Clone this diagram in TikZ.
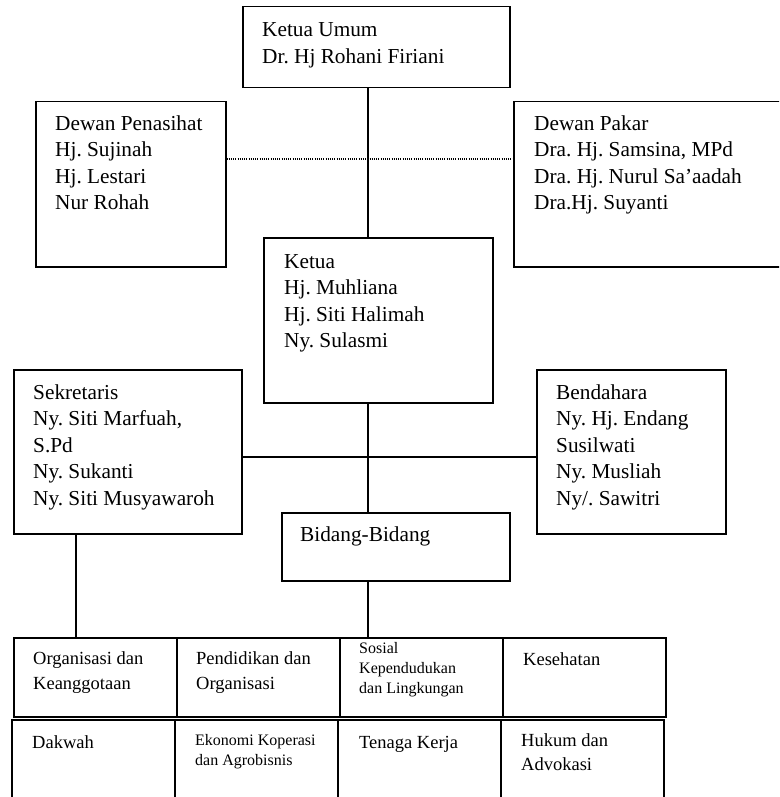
\documentclass[tikz,border=0pt]{standalone}
\usepackage{fontspec}
\setmainfont{Liberation Serif}
\usetikzlibrary{calc}
\frenchspacing
\newcommand\mylines[1]{\begin{tabular}[t]{@{}l@{}}#1\end{tabular}}
\begin{document}
\begin{tikzpicture}[x=1pt,y=-1pt,
  boxst/.style={draw, line width=1.5pt, inner sep=0pt, anchor=north west},
  txt/.style={anchor=base west, inner sep=0pt, font=\fontsize{21.3}{26.5}\selectfont},
  rowtxt/.style={anchor=base west, inner sep=0pt, font=\fontsize{18.5}{25}\selectfont},
  smalltxt/.style={anchor=base west, inner sep=0pt, font=\fontsize{16}{20}\selectfont},
  conn/.style={line width=1.5pt},
  dotconn/.style={line width=1.2pt, dash pattern=on 1.1pt off 1.1pt}]
\useasboundingbox (0,0) rectangle (779,797);
\clip (0,0) rectangle (779,797);
% boxes
\node[boxst, minimum width=267pt, minimum height=81pt] (ku) at (242,6) {};
\node[boxst, minimum width=190pt, minimum height=165pt] (dp) at (35,101) {};
\node[boxst, minimum width=272pt, minimum height=165pt] (dpk) at (513,101) {};
\node[boxst, minimum width=229pt, minimum height=165pt] (ketua) at (263,237) {};
\node[boxst, minimum width=228pt, minimum height=164pt] (sek) at (13,369) {};
\node[boxst, minimum width=189pt, minimum height=164pt] (bend) at (536,369) {};
\node[boxst, minimum width=228pt, minimum height=68pt] (bid) at (281,512) {};
\node[boxst, minimum width=163pt, minimum height=79pt] (r1a) at (13,637) {};
\node[boxst, minimum width=163pt, minimum height=79pt] (r1b) at (176,637) {};
\node[boxst, minimum width=163pt, minimum height=79pt] (r1c) at (339,637) {};
\node[boxst, minimum width=163pt, minimum height=79pt] (r1d) at (502,637) {};
\node[boxst, minimum width=163pt, minimum height=110pt] (r2a) at (11,719) {};
\node[boxst, minimum width=163pt, minimum height=110pt] (r2b) at (174,719) {};
\node[boxst, minimum width=163pt, minimum height=110pt] (r2c) at (337,719) {};
\node[boxst, minimum width=163pt, minimum height=110pt] (r2d) at (500,719) {};
% texts
\node[txt] (ku-t) at (262,37) {\mylines{Ketua Umum\\Dr. Hj Rohani Firiani}};
\node[txt] (dp-t) at (55,130) {\mylines{Dewan Penasihat\\Hj. Sujinah\\Hj. Lestari\\Nur Rohah}};
\node[txt] (dpk-t) at (534,130) {\mylines{Dewan Pakar\\Dra. Hj. Samsina, MPd\\Dra. Hj. Nurul Sa’aadah\\Dra.Hj. Suyanti}};
\node[txt] (ketua-t) at (284,268) {\mylines{Ketua\\Hj. Muhliana\\Hj. Siti Halimah\\Ny. Sulasmi}};
\node[txt] (sek-t) at (33,399) {\mylines{Sekretaris\\Ny. Siti Marfuah,\\S.Pd\\Ny. Sukanti\\Ny. Siti Musyawaroh}};
\node[txt] (bend-t) at (556,399) {\mylines{Bendahara\\Ny. Hj. Endang\\Susilwati\\Ny. Musliah\\Ny/. Sawitri}};
\node[txt] (bid-t) at (300,541) {Bidang-Bidang};
\node[rowtxt] (r1a-t) at (33,664) {\mylines{Organisasi dan\\Keanggotaan}};
\node[rowtxt] (r1b-t) at (196,664) {\mylines{Pendidikan dan\\Organisasi}};
\node[smalltxt] (r1c-t) at (359,653) {\mylines{Sosial\\Kependudukan\\dan Lingkungan}};
\node[rowtxt] (r1d-t) at (523,665) {Kesehatan};
\node[rowtxt] (r2a-t) at (32,748) {Dakwah};
\node[smalltxt] (r2b-t) at (195,745) {\mylines{Ekonomi Koperasi\\dan Agrobisnis}};
\node[rowtxt] (r2c-t) at (359,748) {Tenaga Kerja};
\node[rowtxt, font=\fontsize{18.5}{24}\selectfont] (r2d-t) at (521,746) {\mylines{Hukum dan\\Advokasi}};
% connectors
\coordinate (spine) at (368,0);
\coordinate (dotrow) at (0,159);
\coordinate (midrow) at (0,457);
\coordinate (sekline) at (76,0);
\draw[conn] (ku.south -| spine) -- (ketua.north -| spine);
\draw[dotconn] (dp.east |- dotrow) -- (dpk.west |- dotrow);
\draw[conn] (ketua.south -| spine) -- (bid.north -| spine);
\draw[conn] (sek.east |- midrow) -- (bend.west |- midrow);
\draw[conn] (sek.south -| sekline) -- (r1a.north -| sekline);
\draw[conn] (bid.south -| spine) -- (r1c.north -| spine);
\end{tikzpicture}
\end{document}
